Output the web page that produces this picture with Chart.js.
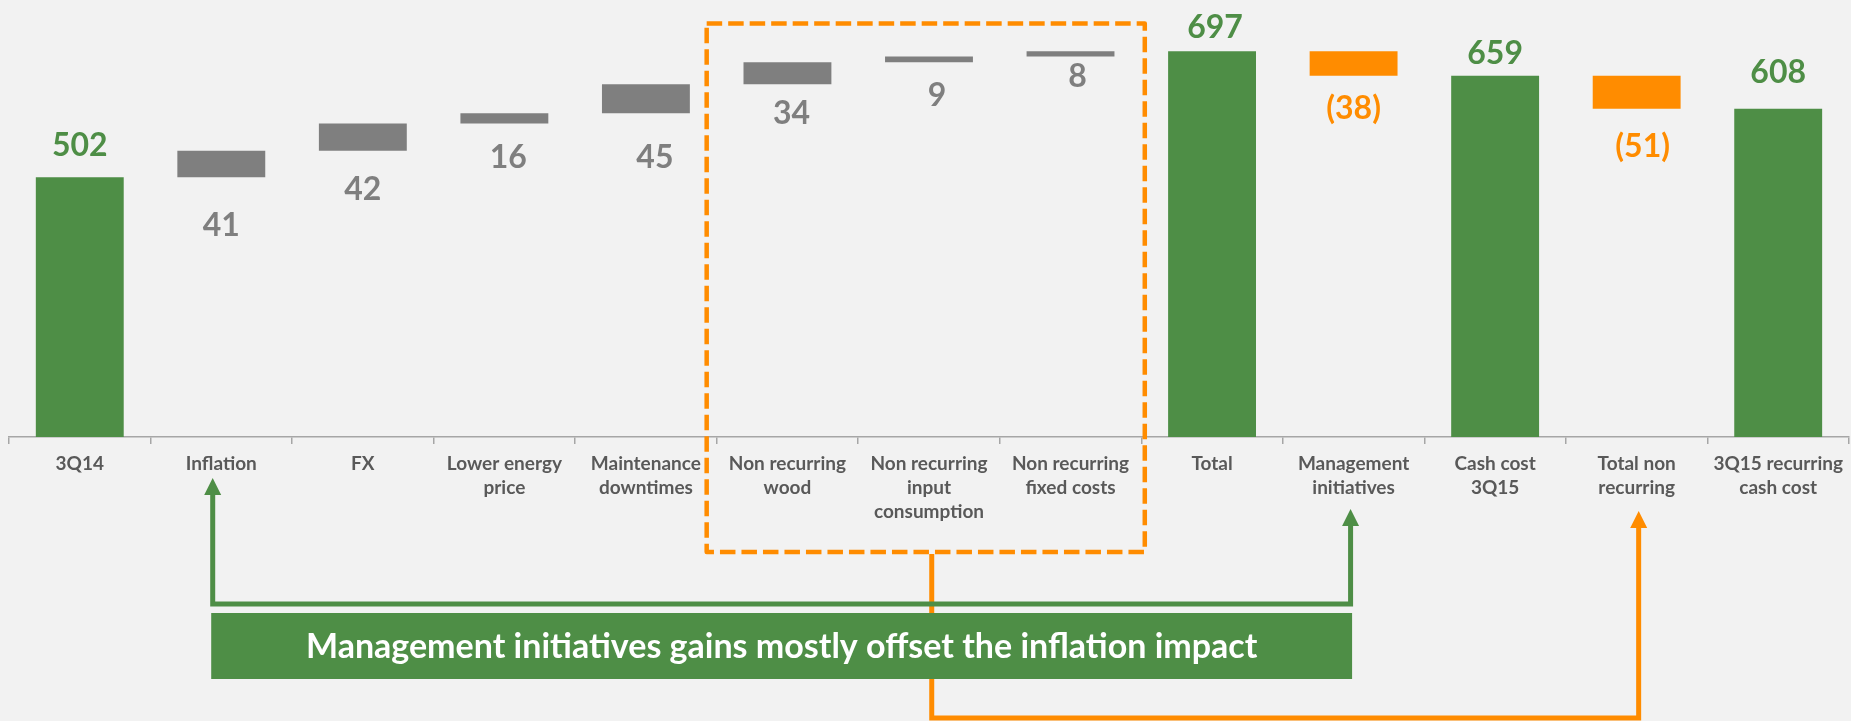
<!DOCTYPE html>
<html>
<head>
<meta charset="utf-8">
<script src="https://cdn.jsdelivr.net/npm/chart.js@4/dist/chart.umd.min.js"></script>
<style>
html,body{margin:0;padding:0;background:#F2F2F2;overflow:hidden}
#wrap{position:relative;width:1851px;height:721px}
</style>
</head>
<body>
<div id="wrap"><canvas id="c"></canvas></div>
<script>
// ---- data ----
const categories = [["3Q14"],["Inflation"],["FX"],["Lower energy","price"],["Maintenance","downtimes"],["Non recurring","wood"],["Non recurring","input","consumption"],["Non recurring","fixed costs"],["Total"],["Management","initiatives"],["Cash cost","3Q15"],["Total non","recurring"],["3Q15 recurring","cash cost"]];
const changes = [502, 41, 42, 16, 45, 34, 9, 8, 697, -38, 659, -51, 608];
const kinds = ["total","up","up","up","up","up","up","up","total","down","total","down","total"];
const labelTexts = ["502","41","42","16","45","34","9","8","697","(38)","659","(51)","608"];
const bannerText = "Management initiatives gains mostly offset the inflation impact";
const yMin = 100, yMax = 760;

// ---- style ----
const GREEN = "#4E8E46", GRAY = "#7F7F7F", ORANGE = "#FF8C00", BG = "#F2F2F2";
const kindColor = {total: GREEN, up: GRAY, down: ORANGE};
const labelOffsetY = [-32.5, 47, 38, 32.5, 43, 28.5, 32.5, 19, -24.5, 32, -23, 37, -37];
const labelOffsetX = [0, 0, 0, 4, 9, 4, 8, 7, 3, 0, 0, 6, 0];

// floating bars built from the changes
let running = 0;
const floating = changes.map((v, i) => {
  if (kinds[i] === "total") { running = v; return [yMin, v]; }
  const s = running; running += v; return [s, running];
});

const bgPlugin = {
  id: "bg",
  beforeDraw(chart) {
    const ctx = chart.ctx;
    ctx.save(); ctx.fillStyle = BG; ctx.fillRect(0, 0, chart.width, chart.height); ctx.restore();
  }
};

const labelPlugin = {
  id: "vlabels",
  afterDatasetsDraw(chart) {
    const ctx = chart.ctx, meta = chart.getDatasetMeta(0), ys = chart.scales.y;
    ctx.save();
    ctx.font = "bold 32px Lato";
    ctx.textAlign = "center";
    ctx.textBaseline = "alphabetic";
    meta.data.forEach((bar, i) => {
      const [a, b] = floating[i];
      const anchorVal = kinds[i] === "total" ? Math.max(a, b) : Math.min(a, b);
      const cy = ys.getPixelForValue(anchorVal) + labelOffsetY[i];
      ctx.fillStyle = kindColor[kinds[i]];
      ctx.fillText(labelTexts[i], bar.x + labelOffsetX[i], cy + 11.5);
    });
    ctx.restore();
  }
};

function arrowHead(ctx, x, tipY, color) {
  ctx.beginPath();
  ctx.moveTo(x, tipY);
  ctx.lineTo(x + 8.5, tipY + 17);
  ctx.lineTo(x - 8.5, tipY + 17);
  ctx.closePath();
  ctx.fillStyle = color; ctx.fill();
}

const annoPlugin = {
  id: "anno",
  afterDraw(chart) {
    const ctx = chart.ctx, ca = chart.chartArea, xs = chart.scales.x, ys = chart.scales.y;
    const catW = (ca.right - ca.left) / categories.length;
    const bound = i => ca.left + i * catW;
    const cx = i => xs.getPixelForValue(i);
    const B = ca.bottom;
    ctx.save();

    // dashed orange box around non recurring items
    const bl = bound(5) - 10, br = bound(8) + 3.5, bt = ys.getPixelForValue(740), bb = B + 115;
    ctx.strokeStyle = ORANGE; ctx.lineWidth = 4.5; ctx.lineJoin = "round";
    ctx.setLineDash([15.5, 6]);
    ctx.strokeRect(bl, bt, br - bl, bb - bt);
    ctx.setLineDash([]);

    // orange connector
    const ox0 = (bl + br) / 2 + 6, ox1 = cx(11) + 2, oTip = B + 74, oBottom = B + 281;
    ctx.lineJoin = "miter"; ctx.lineWidth = 5; ctx.strokeStyle = ORANGE;
    ctx.beginPath();
    ctx.moveTo(ox0, bb + 2);
    ctx.lineTo(ox0, oBottom);
    ctx.lineTo(ox1, oBottom);
    ctx.lineTo(ox1, oTip + 16);
    ctx.stroke();
    arrowHead(ctx, ox1, oTip, ORANGE);

    // green connector
    const gx0 = cx(1) - 8.6, gx1 = cx(9) - 3, gTip0 = B + 41, gTip1 = B + 72, gLine = B + 167;
    ctx.strokeStyle = GREEN;
    ctx.beginPath();
    ctx.moveTo(gx0, gTip0 + 16);
    ctx.lineTo(gx0, gLine);
    ctx.lineTo(gx1, gLine);
    ctx.lineTo(gx1, gTip1 + 16);
    ctx.stroke();
    arrowHead(ctx, gx0, gTip0, GREEN);
    arrowHead(ctx, gx1, gTip1, GREEN);

    // banner
    const rl = gx0 - 1.5, rr = gx1 + 1.5, rt = B + 176, rb = B + 242;
    ctx.fillStyle = GREEN;
    ctx.fillRect(rl, rt, rr - rl, rb - rt);
    let fs = 32;
    ctx.font = "bold " + fs + "px Lato";
    const w = ctx.measureText(bannerText).width;
    fs = Math.min(34, fs * 981 / w);
    ctx.font = "bold " + fs + "px Lato";
    ctx.fillStyle = "#FFFFFF";
    ctx.textAlign = "center"; ctx.textBaseline = "alphabetic";
    ctx.fillText(bannerText, (rl + rr) / 2, (rt + rb) / 2 + 0.36 * fs);
    ctx.restore();
  }
};

new Chart(document.getElementById("c"), {
  type: "bar",
  data: {
    labels: categories,
    datasets: [{
      data: floating,
      backgroundColor: kinds.map(k => kindColor[k]),
      borderWidth: 0,
      barPercentage: 0.621,
      categoryPercentage: 1
    }]
  },
  options: {
    responsive: true,
    maintainAspectRatio: false,
    animation: false,
    layout: {padding: {top: 10.5, left: 9, right: 0, bottom: 0}},
    plugins: {legend: {display: false}, tooltip: {enabled: false}},
    scales: {
      y: {display: false, min: yMin, max: yMax},
      x: {
        offset: true,
        grid: {display: true, offset: true, drawOnChartArea: false, drawTicks: true, tickLength: 7, color: "#A6A6A6", lineWidth: 1.5},
        border: {display: true, color: "#A6A6A6", width: 1.5},
        ticks: {color: "#595959", font: {family: "Lato", weight: "bold", size: 19, lineHeight: 1.26}, padding: 8, maxRotation: 0, minRotation: 0, autoSkip: false},
        afterFit(s) { s.height = 284; }
      }
    }
  },
  plugins: [bgPlugin, labelPlugin, annoPlugin]
});
</script>
</body>
</html>
